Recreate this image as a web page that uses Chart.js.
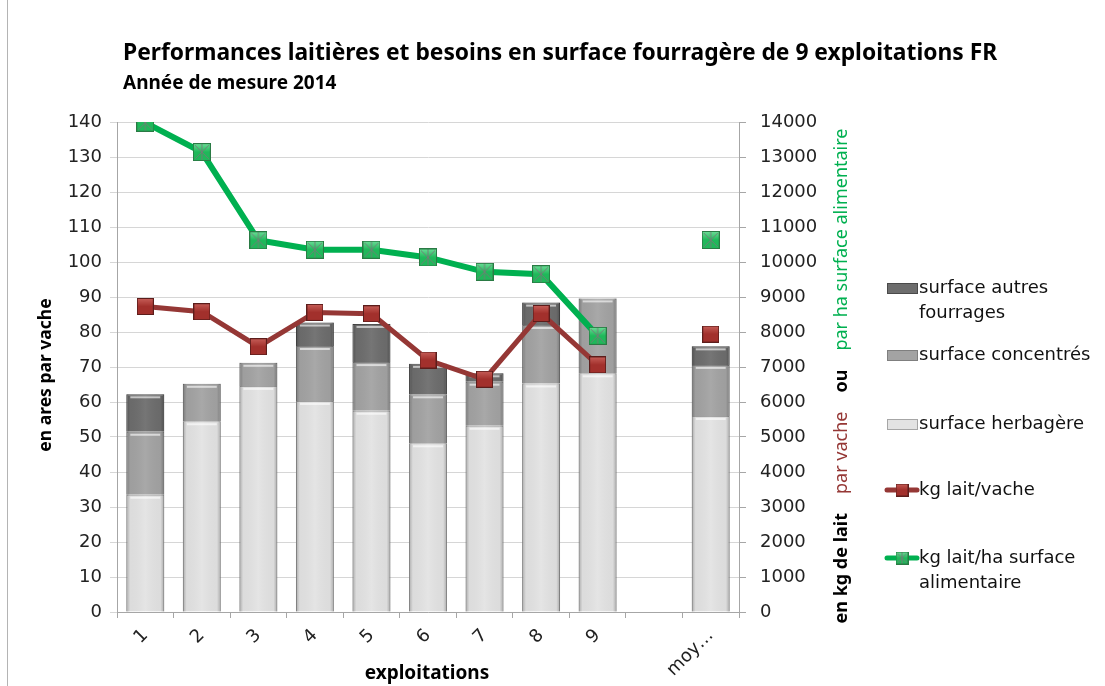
<!DOCTYPE html>
<html>
<head>
<meta charset="utf-8">
<script src="https://cdn.jsdelivr.net/npm/chart.js@4/dist/chart.umd.min.js"></script>
<style>
  html, body { margin: 0; padding: 0; background: #fff; }
  #wrap { width: 1105px; height: 686px; }
</style>
</head>
<body>
<div id="wrap"><canvas id="c" width="1105" height="686"></canvas></div>
<script>
// values
const categories = ['1', '2', '3', '4', '5', '6', '7', '8', '9', '', 'moy…'];
const herbagere = [33.5, 54.5, 64.6, 60.3, 57.5, 48.2, 53.2, 65.3, 68.2, null, 56];
const concentres = [18, 10.7, 6.6, 15.7, 13.9, 14, 12.6, 16.7, 21.4, null, 14.6];
const autresFourrages = [10.7, 0, 0, 6.7, 10.9, 8.7, 2.4, 6.4, 0, null, 5.3];
const laitParVache = [8730, 8580, 7580, 8560, 8520, 7200, 6650, 8530, 7060, null, 7940];
const laitParHa = [13980, 13140, 10620, 10350, 10350, 10130, 9720, 9650, 7890, null, 10630];

const leftMax = 140, leftStep = 10;
const rightMax = 14000, rightStep = 1000;

const title = 'Performances laitières et besoins en surface fourragère de 9 exploitations FR';
const subtitle = 'Année de mesure 2014';
const yTitle = 'en ares par vache';
const xTitle = 'exploitations';

const RED = '#953735';
const GREEN = '#00b050';
const TITLE_FONT = '"Noto Sans"';

function makeMarker(size, fill, light, edge, star) {
    const c = document.createElement('canvas');
    c.width = size;
    c.height = size;
    const g = c.getContext('2d');
    const grad = g.createLinearGradient(0, 0, 0, size);
    grad.addColorStop(0, light);
    grad.addColorStop(0.5, fill);
    grad.addColorStop(1, fill);
    g.fillStyle = grad;
    g.fillRect(0.5, 0.5, size - 1, size - 1);
    g.strokeStyle = edge;
    g.lineWidth = 1;
    g.strokeRect(0.5, 0.5, size - 1, size - 1);
    if (star) {
        g.strokeStyle = 'rgba(120,120,120,0.9)';
        g.beginPath();
        g.moveTo(2, 2); g.lineTo(size - 2, size - 2);
        g.moveTo(size - 2, 2); g.lineTo(2, size - 2);
        g.moveTo(size / 2, 1); g.lineTo(size / 2, size - 1);
        g.stroke();
    }
    return c;
}

const redPoint = makeMarker(17, '#a2302c', '#c8605a', '#5c1d1b', false);
const greenPoint = makeMarker(18, '#1fb85a', '#6fe09a', '#2a7a44', true);
const redSmall = makeMarker(13, '#a2302c', '#c8605a', '#5c1d1b', false);
const greenSmall = makeMarker(13, '#1fb85a', '#6fe09a', '#2a7a44', true);

// shaded edges on the bars
const bevel = {
    id: 'bevel',
    afterDatasetDraw(chart, args) {
        const meta = args.meta;
        if (meta.type !== 'bar') return;
        const ctx = chart.ctx;
        meta.data.forEach(el => {
            if (el.skip) return;
            const p = el.getProps(['x', 'y', 'base', 'width'], true);
            const h = p.base - p.y;
            if (!(h > 1)) return;
            const l = p.x - p.width / 2;
            const gr = ctx.createLinearGradient(l, 0, l + p.width, 0);
            gr.addColorStop(0, 'rgba(0,0,0,0.25)');
            gr.addColorStop(0.1, 'rgba(0,0,0,0.03)');
            gr.addColorStop(0.5, 'rgba(255,255,255,0.06)');
            gr.addColorStop(0.9, 'rgba(0,0,0,0.03)');
            gr.addColorStop(1, 'rgba(0,0,0,0.25)');
            ctx.save();
            ctx.fillStyle = gr;
            ctx.fillRect(l, p.y, p.width, h);
            ctx.fillStyle = 'rgba(255,255,255,0.6)';
            ctx.fillRect(l + 4, p.y + 2, p.width - 8, 2);
            ctx.restore();
        });
    }
};

// titles, right axis title, legend
const decor = {
    id: 'decor',
    afterDraw(chart) {
        const ctx = chart.ctx;
        ctx.save();
        ctx.strokeStyle = '#b4b4b4';
        ctx.lineWidth = 1;
        ctx.beginPath();
        ctx.moveTo(7.5, 0);
        ctx.lineTo(7.5, 686);
        ctx.stroke();

        ctx.fillStyle = '#000';
        ctx.textAlign = 'left';
        ctx.textBaseline = 'alphabetic';
        ctx.font = 'bold 22.8px ' + TITLE_FONT;
        ctx.fillText(title, 123, 60);
        ctx.font = 'bold 19px ' + TITLE_FONT;
        ctx.fillText(subtitle, 123, 89);

        ctx.save();
        ctx.translate(46, 375);
        ctx.rotate(-Math.PI / 2);
        ctx.textAlign = 'center';
        ctx.textBaseline = 'middle';
        ctx.font = 'bold 17.5px ' + TITLE_FONT;
        ctx.fillText(yTitle, 0, 0);
        ctx.restore();

        ctx.textAlign = 'center';
        ctx.textBaseline = 'middle';
        ctx.font = 'bold 19px ' + TITLE_FONT;
        ctx.fillText(xTitle, 427, 674);

        // right title in several colours
        const parts = [
            {t: 'en kg de lait', f: 'bold 18px ' + TITLE_FONT, c: '#000'},
            {t: 'par vache', f: '18px ' + TITLE_FONT, c: RED},
            {t: 'ou', f: 'bold 18px ' + TITLE_FONT, c: '#000'},
            {t: 'par ha surface alimentaire', f: '18px ' + TITLE_FONT, c: GREEN}
        ];
        const gap = 19;
        let total = 0;
        parts.forEach(p => { ctx.font = p.f; p.w = ctx.measureText(p.t).width; total += p.w; });
        total += gap * (parts.length - 1);
        ctx.save();
        ctx.translate(842, 376);
        ctx.rotate(-Math.PI / 2);
        ctx.textAlign = 'left';
        let x = -total / 2;
        parts.forEach(p => {
            ctx.font = p.f;
            ctx.fillStyle = p.c;
            ctx.fillText(p.t, x, 0);
            x += p.w + gap;
        });
        ctx.restore();

        // legend
        ctx.font = '18px "DejaVu Sans"';
        ctx.textAlign = 'left';
        ctx.textBaseline = 'middle';
        ctx.lineWidth = 1;
        const boxes = [
            {y: 288, fill: '#6d6d6d', edge: '#4a4a4a', lines: ['surface autres', 'fourrages']},
            {y: 355, fill: '#a3a3a3', edge: '#7f7f7f', lines: ['surface concentrés']},
            {y: 424, fill: '#e3e3e3', edge: '#a6a6a6', lines: ['surface herbagère']}
        ];
        boxes.forEach(b => {
            ctx.fillStyle = b.fill;
            ctx.fillRect(887, b.y - 5, 31, 11);
            ctx.strokeStyle = b.edge;
            ctx.strokeRect(887.5, b.y - 4.5, 30, 10);
            ctx.fillStyle = '#111';
            b.lines.forEach((s, i) => ctx.fillText(s, 919, b.y + i * 25));
        });
        const lines = [
            {y: 490, col: RED, img: redSmall, lines: ['kg lait/vache']},
            {y: 558, col: GREEN, img: greenSmall, lines: ['kg lait/ha surface', 'alimentaire']}
        ];
        lines.forEach(l => {
            ctx.strokeStyle = l.col;
            ctx.lineWidth = 5;
            ctx.lineCap = 'round';
            ctx.beginPath();
            ctx.moveTo(887, l.y);
            ctx.lineTo(917, l.y);
            ctx.stroke();
            ctx.drawImage(l.img, 902 - 6.5, l.y - 6.5);
            ctx.fillStyle = '#111';
            l.lines.forEach((s, i) => ctx.fillText(s, 919, l.y + i * 25));
        });
        ctx.restore();
    }
};

const tickFont = {family: 'DejaVu Sans', size: 18};

new Chart(document.getElementById('c'), {
    data: {
        labels: categories,
        datasets: [
            {
                type: 'line', label: 'kg lait/vache', data: laitParVache, yAxisID: 'y1',
                borderColor: RED, borderWidth: 5, pointStyle: redPoint, pointRadius: 9,
                spanGaps: false, order: 0
            },
            {
                type: 'line', label: 'kg lait/ha surface alimentaire', data: laitParHa, yAxisID: 'y1',
                borderColor: GREEN, borderWidth: 6, pointStyle: greenPoint, pointRadius: 9,
                spanGaps: false, order: 0
            },
            {
                type: 'bar', label: 'surface herbagère', data: herbagere, yAxisID: 'y',
                backgroundColor: '#e3e3e3', borderColor: '#a0a0a0',
                borderWidth: c => (c.raw ? 1 : 0), order: 1
            },
            {
                type: 'bar', label: 'surface concentrés', data: concentres, yAxisID: 'y',
                backgroundColor: '#a3a3a3', borderColor: '#7f7f7f',
                borderWidth: c => (c.raw ? 1 : 0), order: 1
            },
            {
                type: 'bar', label: 'surface autres fourrages', data: autresFourrages, yAxisID: 'y',
                backgroundColor: '#6d6d6d', borderColor: '#4a4a4a',
                borderWidth: c => (c.raw ? 1 : 0), order: 1
            }
        ]
    },
    options: {
        responsive: false,
        animation: false,
        devicePixelRatio: 1,
        barPercentage: 0.67,
        categoryPercentage: 1,
        layout: {padding: {top: 122, right: 271, bottom: 0, left: 0}},
        plugins: {legend: {display: false}, tooltip: {enabled: false}},
        scales: {
            x: {
                stacked: true,
                grid: {drawOnChartArea: false, tickLength: 6, color: '#a6a6a6'},
                border: {color: '#a6a6a6'},
                ticks: {minRotation: 45, maxRotation: 45, font: tickFont, color: '#222', padding: 7},
                afterFit(s) { s.height = 74; }
            },
            y: {
                stacked: true,
                min: 0, max: leftMax,
                ticks: {stepSize: leftStep, font: tickFont, color: '#222', padding: 8},
                grid: {color: '#d6d6d6', tickLength: 7},
                border: {color: '#a6a6a6'},
                afterFit(s) { s.width = 117; }
            },
            y1: {
                position: 'right',
                min: 0, max: rightMax,
                ticks: {stepSize: rightStep, font: tickFont, color: '#222', padding: 14,
                    callback: v => String(v)},
                grid: {drawOnChartArea: false, tickLength: 7, color: '#a6a6a6'},
                border: {color: '#a6a6a6'},
                afterFit(s) { s.width = 95; }
            }
        }
    },
    plugins: [bevel, decor]
});
</script>
</body>
</html>
